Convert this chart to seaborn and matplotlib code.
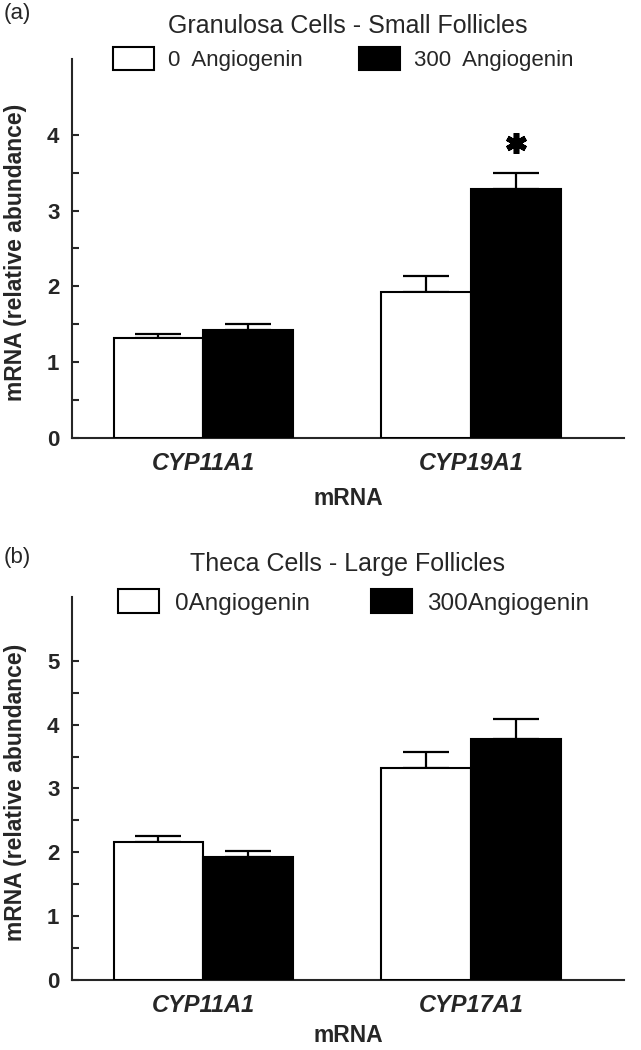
import numpy as np
import pandas as pd
import seaborn as sns
import matplotlib
matplotlib.use('Agg')
import matplotlib.pyplot as plt
from matplotlib.patches import Patch

# panel (a) granulosa cells, small follicles
genes_a = ['CYP11A1', 'CYP19A1']
mean_a_0 = [1.32, 1.93]
sem_a_0 = [0.05, 0.20]
mean_a_300 = [1.43, 3.28]
sem_a_300 = [0.07, 0.22]

# panel (b) theca cells, large follicles
genes_b = ['CYP11A1', 'CYP17A1']
mean_b_0 = [2.16, 3.32]
sem_b_0 = [0.10, 0.25]
mean_b_300 = [1.93, 3.78]
sem_b_300 = [0.09, 0.30]

treatments = ['0', '300']

sns.set_style('ticks')
plt.rcParams['font.family'] = ['Liberation Sans', 'DejaVu Sans']


def make_df(genes, m0, s0, m300, s300):
    rows = []
    for g, m, s in zip(genes, m0, s0):
        rows.append({'gene': g, 'treatment': '0', 'mean': m, 'sem': s})
    for g, m, s in zip(genes, m300, s300):
        rows.append({'gene': g, 'treatment': '300', 'mean': m, 'sem': s})
    return pd.DataFrame(rows)


def draw_panel(ax, df, genes, ymax, title, leg_labels, leg_x, leg_y, fig,
               leg_size=16, colspace=2.6, xpad=9):
    sns.barplot(data=df, x='gene', y='mean', hue='treatment', order=genes,
                hue_order=treatments, palette=['white', 'black'],
                edgecolor='black', linewidth=1.5, width=0.67,
                errorbar=None, legend=False, ax=ax, zorder=3)
    # one sided sem bars on top of every bar
    for cont, t in zip(ax.containers, treatments):
        sub = df[df['treatment'] == t].set_index('gene').loc[genes]
        xs = [b.get_x() + b.get_width() / 2 for b in cont]
        ys = [b.get_height() for b in cont]
        ax.errorbar(xs, ys, yerr=[np.zeros(len(xs)), sub['sem'].values],
                    fmt='none', ecolor='black', elinewidth=1.6,
                    capsize=16.5, capthick=1.6, zorder=2)

    ax.set_ylim(0, ymax)
    ax.set_xlim(-0.49, 1.57)
    ax.set_yticks(np.arange(0, ymax))
    ax.set_yticks(np.arange(0.5, ymax - 1, 1.0), minor=True)
    ax.tick_params(axis='y', which='both', direction='in', length=5, width=1.5,
                   pad=9, labelsize=16)
    ax.tick_params(axis='x', length=0, pad=10, labelsize=17)
    for lab in ax.get_yticklabels():
        lab.set_fontweight('bold')
    for lab in ax.get_xticklabels():
        lab.set_fontweight('bold')
        lab.set_fontstyle('italic')

    sns.despine(ax=ax)
    for sp in ['left', 'bottom']:
        ax.spines[sp].set_linewidth(1.5)

    ax.set_xlabel('mRNA', fontsize=16.5, fontweight='bold', labelpad=xpad)
    ax.set_ylabel('mRNA (relative abundance)', fontsize=16.5, fontweight='bold')
    ax.yaxis.set_label_coords(-0.082, 0.49)

    ax.text(0.5, 1.087, title, transform=ax.transAxes, ha='center',
            va='center', fontsize=18)

    handles = [Patch(facecolor='white', edgecolor='black', linewidth=1.5),
               Patch(facecolor='black', edgecolor='black', linewidth=1.5)]
    fig.legend(handles, leg_labels, ncol=2, loc='center left',
               bbox_to_anchor=(leg_x, leg_y), frameon=False, fontsize=leg_size,
               handlelength=29.5 / leg_size, handleheight=20 / leg_size,
               handletextpad=0.65, columnspacing=colspace, borderpad=0,
               borderaxespad=0)


fig = plt.figure(figsize=(6.41, 10.5), dpi=100)
ax_a = fig.add_axes([0.1123, 0.5829, 0.8612, 0.3610])
ax_b = fig.add_axes([0.1123, 0.0667, 0.8612, 0.3648])

df_a = make_df(genes_a, mean_a_0, sem_a_0, mean_a_300, sem_a_300)
df_b = make_df(genes_b, mean_b_0, sem_b_0, mean_b_300, sem_b_300)

draw_panel(ax_a, df_a, genes_a, 5, 'Granulosa Cells - Small Follicles',
           ['0  Angiogenin', '300  Angiogenin'], 113 / 641, 1 - 59 / 1050, fig,
           leg_size=16, colspace=2.5, xpad=9)
draw_panel(ax_b, df_b, genes_b, 6, 'Theca Cells - Large Follicles',
           ['0Angiogenin', '300Angiogenin'], 118 / 641, 1 - 602 / 1050, fig,
           leg_size=17.5, colspace=2.5, xpad=5)

# significance mark above the 300 bar of CYP19A1
star_bar = ax_a.containers[1][1]
ax_a.plot(star_bar.get_x() + star_bar.get_width() / 2, 3.89, marker=(6, 2, 0),
          markersize=15, markeredgewidth=4, color='black', zorder=4)

fig.text(0.005, 1 - 14 / 1050, '(a)', fontsize=16, va='center', ha='left')
fig.text(0.005, 1 - 558 / 1050, '(b)', fontsize=16, va='center', ha='left')

fig.savefig('out.png', dpi=100)
